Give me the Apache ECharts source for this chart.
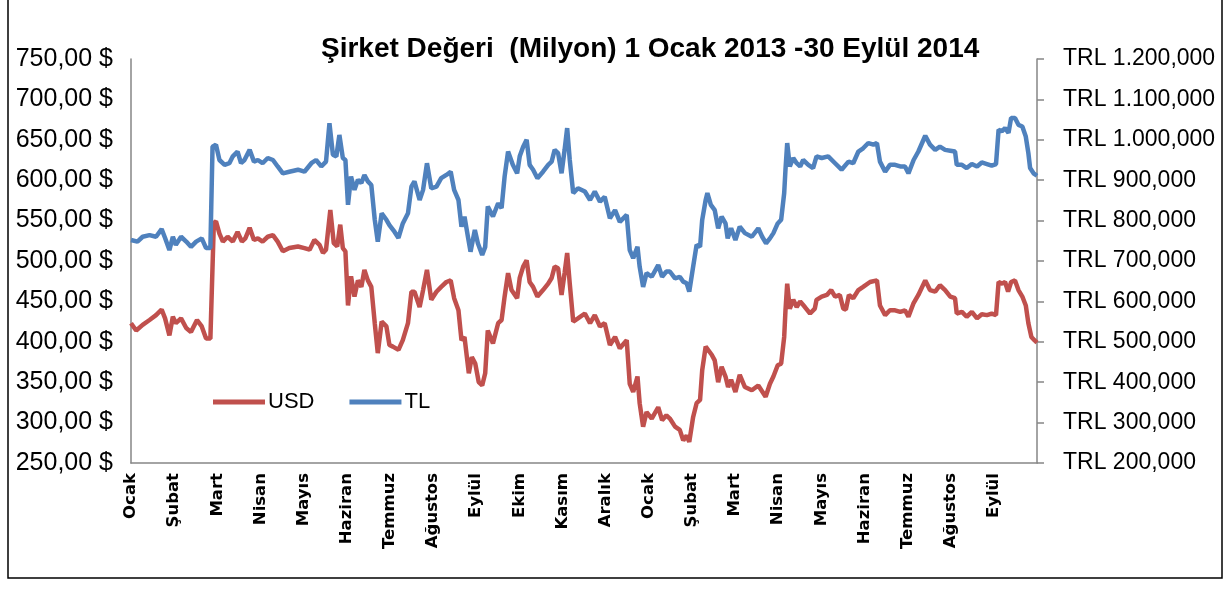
<html>
<head>
    <meta http-equiv="Content-Type" content="text/html; charset=utf-8" />
    <script type="text/javascript" src="https://cdn.jsdelivr.net/npm/echarts@6/dist/echarts.min.js"></script>
</head>
<body style="margin:0;background:#fff">
<div id="main" style="width:1231px;height:591px"></div>

<script type="text/javascript">
    // ay etiketleri (x ekseni, 0 = 1 Ocak 2013)
    var aylar = ['Ocak','Şubat','Mart','Nisan','Mayıs','Haziran','Temmuz','Ağustos','Eylül','Ekim','Kasım','Aralık',
                 'Ocak','Şubat','Mart','Nisan','Mayıs','Haziran','Temmuz','Ağustos','Eylül'];

    // USD (milyon $), zaman ay cinsinden
    var usdAy = [0,0.12,0.27,0.43,0.58,0.71,0.79,0.89,0.97,1.04,1.16,1.28,1.39,1.53,1.64,1.74,1.84,1.92,1.97,2.05,
        2.13,2.24,2.36,2.47,2.57,2.65,2.75,2.85,2.94,3.05,3.17,3.29,3.40,3.52,3.67,3.87,4.02,4.14,4.25,4.37,
        4.45,4.52,4.62,4.70,4.78,4.85,4.91,4.97,5.03,5.10,5.18,5.26,5.34,5.41,5.49,5.57,5.65,5.72,5.81,5.92,
        5.99,6.07,6.20,6.30,6.42,6.50,6.57,6.69,6.77,6.86,6.96,7.08,7.19,7.31,7.41,7.49,7.59,7.66,7.73,7.83,
        7.90,7.98,8.06,8.14,8.21,8.27,8.39,8.51,8.59,8.66,8.74,8.82,8.95,9.01,9.09,9.17,9.24,9.32,9.42,9.55,
        9.67,9.75,9.82,9.90,9.98,10.05,10.11,10.17,10.25,10.36,10.52,10.64,10.75,10.87,10.98,11.10,11.22,11.33,11.49,11.56,
        11.64,11.74,11.79,11.87,11.95,12.07,12.22,12.31,12.41,12.49,12.61,12.72,12.80,12.88,12.94,13.03,13.11,13.19,13.24,13.32,
        13.36,13.46,13.53,13.61,13.69,13.78,13.84,13.91,14.01,14.11,14.23,14.39,14.54,14.71,14.81,14.89,14.99,15.07,15.14,15.17,
        15.21,15.27,15.35,15.43,15.51,15.62,15.74,15.85,15.89,16.01,16.13,16.23,16.32,16.43,16.51,16.57,16.64,16.74,16.86,16.97,
        17.13,17.29,17.36,17.48,17.59,17.71,17.83,17.94,18.02,18.14,18.25,18.41,18.52,18.64,18.75,18.87,18.99,19.10,19.14,19.26,
        19.37,19.49,19.61,19.72,19.84,19.95,20.05,20.11,20.19,20.26,20.33,20.40,20.49,20.57,20.66,20.74,20.80,20.87,20.94,21];
    var usdDeger = [423,414,421,427,433,440,429,408,431,423,429,417,412,427,419,404,404,547,549,534,
        524,530,524,536,524,528,541,526,528,524,530,532,524,512,516,518,516,514,526,520,
        510,514,563,522,518,545,516,512,445,481,456,476,468,489,476,468,423,386,425,419,
        396,394,390,402,423,462,462,443,464,489,452,462,468,474,476,454,439,402,406,361,
        381,373,350,346,361,414,398,423,427,456,485,464,454,479,493,501,474,468,456,464,
        472,479,493,491,458,485,510,472,425,429,435,423,433,419,423,396,406,392,402,348,
        338,357,324,295,313,305,319,303,309,305,295,291,278,284,276,307,324,328,365,394,
        396,384,377,350,369,357,344,353,338,359,344,340,346,332,348,357,371,373,406,439,
        472,441,452,443,450,443,435,441,452,456,458,464,456,458,441,440,458,454,464,468,
        474,476,445,433,439,439,437,439,431,448,458,476,464,462,470,464,456,454,435,437,
        431,437,429,434,433,435,433,474,472,474,462,474,476,464,456,445,423,406,402,399];

    // TL (bin TL), zaman ay cinsinden
    var tlAy = [0,0.15,0.27,0.43,0.58,0.71,0.79,0.89,0.97,1.04,1.16,1.28,1.39,1.51,1.64,1.74,1.84,1.89,1.97,2.05,
        2.17,2.28,2.36,2.47,2.55,2.63,2.75,2.85,2.94,3.05,3.17,3.29,3.40,3.52,3.67,3.87,4.02,4.18,4.29,4.41,
        4.52,4.60,4.68,4.76,4.83,4.91,4.97,5.03,5.10,5.18,5.26,5.34,5.41,5.49,5.57,5.65,5.72,5.81,5.92,5.99,
        6.11,6.20,6.30,6.42,6.50,6.57,6.69,6.77,6.86,6.96,7.08,7.19,7.31,7.41,7.49,7.59,7.66,7.73,7.81,7.87,
        7.97,8.04,8.14,8.21,8.27,8.39,8.51,8.59,8.66,8.74,8.85,8.95,9.01,9.09,9.17,9.24,9.32,9.42,9.55,9.67,
        9.75,9.82,9.90,9.98,10.05,10.11,10.17,10.25,10.36,10.52,10.64,10.75,10.87,10.98,11.10,11.22,11.33,11.49,11.56,11.64,
        11.74,11.79,11.87,11.95,12.07,12.22,12.31,12.41,12.49,12.61,12.72,12.80,12.88,12.94,13.03,13.11,13.19,13.24,13.32,13.36,
        13.44,13.53,13.61,13.69,13.78,13.83,13.91,14.01,14.11,14.23,14.39,14.54,14.63,14.72,14.81,14.89,14.99,15.07,15.14,15.17,
        15.21,15.27,15.35,15.43,15.51,15.58,15.70,15.81,15.89,16.01,16.16,16.32,16.47,16.63,16.74,16.86,16.97,17.09,17.21,17.29,
        17.36,17.48,17.59,17.71,17.83,17.94,18.02,18.14,18.25,18.41,18.52,18.64,18.75,18.87,18.99,19.10,19.14,19.26,19.37,19.49,
        19.61,19.72,19.84,19.95,20.05,20.11,20.19,20.26,20.34,20.40,20.49,20.57,20.66,20.74,20.80,20.84,20.92,21];
    var tlDeger = [752,748,760,764,760,779,757,727,760,740,760,748,735,748,756,732,732,983,988,950,
        938,942,959,971,942,950,975,946,950,942,955,950,934,917,921,926,921,942,950,934,
        946,1041,963,959,1012,955,950,839,909,876,901,893,913,897,888,802,748,818,802,789,
        772,757,793,818,884,897,851,876,942,880,884,905,913,921,876,851,785,810,760,723,
        777,744,715,735,835,810,843,831,909,971,938,917,959,983,1000,938,926,905,921,938,
        946,975,967,917,975,1029,950,868,880,872,851,872,847,859,806,826,797,814,727,707,
        735,686,636,670,661,690,661,674,674,657,661,649,645,624,686,740,735,802,851,868,
        839,826,781,810,793,756,781,752,785,769,760,781,760,744,756,769,793,802,868,926,
        992,934,955,942,934,950,938,930,959,955,959,942,926,946,942,971,979,992,988,992,
        946,921,938,938,934,934,917,950,971,1010,988,975,983,975,973,971,938,938,930,940,
        934,944,940,936,940,1025,1021,1029,1017,1054,1054,1037,1033,1008,967,930,917,911];

    function ciftler(xs, ys) {
        var r = [];
        for (var i = 0; i < xs.length; i++) {
            r.push([xs[i], ys[i]]);
        }
        return r;
    }

    var yaziTipi = "'Liberation Sans', sans-serif";

    var myChart = echarts.init(document.getElementById('main'));
    var option = {
        animation: false,
        backgroundColor: '#fff',
        title: {
            text: 'Şirket Değeri  (Milyon) 1 Ocak 2013 -30 Eylül 2014',
            left: 316,
            top: 30,
            textStyle: { fontFamily: yaziTipi, fontWeight: 'bold', fontSize: 28, color: '#000' }
        },
        legend: {
            left: 208,
            top: 386,
            icon: 'rect',
            itemWidth: 52,
            itemHeight: 5,
            itemGap: 35,
            textStyle: { fontFamily: yaziTipi, fontSize: 22, color: '#000', padding: [0, 0, 0, -2] },
            data: ['USD', 'TL']
        },
        graphic: [{
            type: 'rect',
            shape: { x: 8, y: -5, width: 1214, height: 583 },
            style: { fill: 'none', stroke: '#000', lineWidth: 1.5 },
            silent: true
        }],
        grid: { left: 131, right: 194, top: 59, bottom: 128 },
        xAxis: {
            type: 'value',
            min: 0,
            max: 21,
            interval: 1,
            splitLine: { show: false },
            axisTick: { show: false },
            axisLine: { lineStyle: { color: '#868686', width: 1.5 } },
            axisLabel: {
                rotate: 90,
                margin: 10,
                fontFamily: "'DejaVu Sans', sans-serif",
                fontWeight: 'bold',
                fontSize: 16.5,
                color: '#000',
                showMaxLabel: false,
                formatter: function (v) { return aylar[Math.round(v)] || ''; }
            }
        },
        yAxis: [{
            type: 'value',
            min: 250,
            max: 750,
            interval: 50,
            splitLine: { show: false },
            axisTick: { show: false },
            axisLine: { show: true, lineStyle: { color: '#868686', width: 1.5 } },
            axisLabel: {
                margin: 18,
                fontFamily: yaziTipi,
                fontSize: 25,
                color: '#000',
                formatter: function (v) { return v.toFixed(2).replace('.', ',') + ' $'; }
            }
        }, {
            type: 'value',
            min: 200,
            max: 1200,
            interval: 100,
            splitLine: { show: false },
            axisTick: { show: true, length: 7, lineStyle: { color: '#868686', width: 1.5 } },
            axisLine: { show: true, lineStyle: { color: '#868686', width: 1.5 } },
            axisLabel: {
                margin: 26,
                fontFamily: yaziTipi,
                fontSize: 23,
                color: '#000',
                formatter: function (v) {
                    if (v >= 1000) {
                        var k = v % 1000;
                        return 'TRL ' + Math.floor(v / 1000) + '.' + (k < 10 ? '00' : (k < 100 ? '0' : '')) + k + ',000';
                    }
                    return 'TRL ' + v + ',000';
                }
            }
        }],
        series: [{
            name: 'USD',
            type: 'line',
            yAxisIndex: 0,
            showSymbol: false,
            color: '#C0504D',
            lineStyle: { width: 4.5, color: '#C0504D' },
            data: ciftler(usdAy, usdDeger)
        }, {
            name: 'TL',
            type: 'line',
            yAxisIndex: 1,
            showSymbol: false,
            color: '#4F81BD',
            lineStyle: { width: 4.5, color: '#4F81BD' },
            data: ciftler(tlAy, tlDeger)
        }]
    };
    myChart.setOption(option);
</script>
</body>
</html>
